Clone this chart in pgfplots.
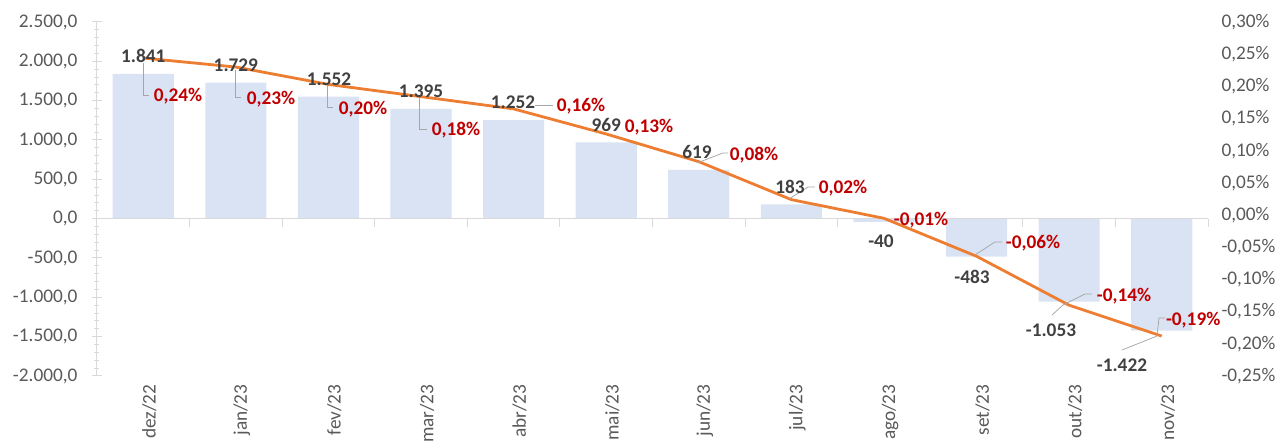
\documentclass[border=0pt]{standalone}
\usepackage{pgfplots}
\pgfplotsset{compat=1.18}
\usepackage{fontspec}
\setmainfont{Carlito}
\definecolor{barblue}{HTML}{DAE3F3}
\definecolor{lineor}{HTML}{ED7D31}
\definecolor{tickgray}{HTML}{595959}
\definecolor{axgray}{HTML}{D9D9D9}
\definecolor{lblgray}{HTML}{404040}
\definecolor{pctred}{HTML}{C00000}
\definecolor{leadgray}{HTML}{A6A6A6}
\begin{document}
\begin{tikzpicture}[font=\fontsize{19.3}{22}\selectfont]
\useasboundingbox (-97pt,-70pt) rectangle (1182pt,376pt);
\begin{axis}[
  at={(0,0)}, anchor=south west,
  scale only axis, width=1111pt, height=354pt,
  xmin=-0.5, xmax=11.5, ymin=-2000, ymax=2500,
  axis x line*=bottom, axis y line*=left,
  x axis line style={draw=none},
  y axis line style={draw=axgray, line width=1pt},
  xtick={0,...,11},
  xticklabels={dez/22,jan/23,fev/23,mar/23,abr/23,mai/23,jun/23,jul/23,ago/23,set/23,out/23,nov/23},
  xtick style={draw=none},
  xticklabel style={rotate=90, anchor=east, text=tickgray, font=\fontsize{19.3}{22}\selectfont, yshift=-6pt},
  ytick={-2000,-1500,-1000,-500,0,500,1000,1500,2000,2500},
  minor y tick num=4,
  ytick style={draw=axgray, line width=1pt},
  tick align=center,
  major tick length=10pt, minor tick length=5pt,
  yticklabel style={text=tickgray, font=\fontsize{19.3}{22}\selectfont, xshift=-11pt,
    /pgf/number format/.cd, fixed, fixed zerofill, precision=1, use comma, 1000 sep={.}},
  /pgf/number format/assume math mode=true,
  clip=false,
]
\addplot[ybar, bar width=0.66, fill=barblue, draw=none] coordinates {
(0,1841) (1,1729) (2,1552) (3,1395) (4,1252) (5,969) (6,619) (7,183) (8,-40) (9,-483) (10,-1053) (11,-1422)};
\draw[axgray, line width=1pt] (axis cs:-0.5,0) -- (axis cs:11.5,0);
\pgfplotsinvokeforeach{0.5,1.5,2.5,3.5,4.5,5.5,6.5,7.5,8.5,9.5,10.5,11.5}{
  \draw[axgray, line width=1pt] (axis cs:#1,0) -- (axis cs:#1,-100);
}
\end{axis}
\begin{axis}[
  at={(0,0)}, anchor=south west,
  scale only axis, width=1111pt, height=354pt,
  xmin=-0.5, xmax=11.5, ymin=-0.25, ymax=0.30,
  axis x line=none, axis y line*=right,
  y axis line style={draw=none},
  ytick={-0.25,-0.20,-0.15,-0.10,-0.05,0,0.05,0.10,0.15,0.20,0.25,0.30},
  major tick length=0pt,
  yticklabel={\pgfmathprintnumber[fixed,fixed zerofill,precision=2,use comma]{\tick}\%},
  yticklabel style={text=tickgray, anchor=west, font=\fontsize{19.3}{22}\selectfont, xshift=10pt},
  /pgf/number format/assume math mode=true,
  clip=false,
]
\addplot[lineor, line width=2.8pt, line join=round, mark=none] coordinates {
(0,0.244) (1,0.230) (2,0.203) (3,0.184) (4,0.165) (5,0.126) (6,0.083) (7,0.024) (8,-0.005) (9,-0.064) (10,-0.140) (11,-0.188)};
% leader lines
\draw[leadgray, line width=0.75pt] (axis cs:0,0.236) -- (axis cs:0,0.1866) -- (axis cs:0.06,0.1866);
\draw[leadgray, line width=0.75pt] (axis cs:0.991,0.2254) -- (axis cs:0.991,0.1835) -- (axis cs:1.055,0.1835);
\draw[leadgray, line width=0.75pt] (axis cs:1.984,0.2006) -- (axis cs:1.984,0.1679) -- (axis cs:2.049,0.1679);
\draw[leadgray, line width=0.75pt] (axis cs:2.978,0.1819) -- (axis cs:2.978,0.1337) -- (axis cs:3.064,0.1337);
\draw[leadgray, line width=0.75pt] (axis cs:4.231,0.1710) -- (axis cs:4.425,0.1710);
\draw[leadgray, line width=0.75pt] (axis cs:5.981,0.0809) -- (axis cs:6.261,0.0965) -- (axis cs:6.315,0.0965);
\draw[leadgray, line width=0.75pt] (axis cs:6.974,0.0250) -- (axis cs:7.180,0.0436) -- (axis cs:7.255,0.0436);
\draw[leadgray, line width=0.75pt] (axis cs:8.983,-0.062) -- (axis cs:9.199,-0.0418) -- (axis cs:9.275,-0.0418);
\draw[leadgray, line width=0.75pt] (axis cs:9.815,-0.1553) -- (axis cs:9.934,-0.1397) -- (axis cs:10.171,-0.1226) -- (axis cs:10.247,-0.1226);
\draw[leadgray, line width=0.75pt] (axis cs:10.571,-0.2096) -- (axis cs:10.949,-0.1879) -- (axis cs:10.971,-0.160) -- (axis cs:11.036,-0.160);
% bar value labels
\begin{scope}[every node/.style={font=\fontsize{19.3}{22}\selectfont\bfseries, text=lblgray, inner sep=0pt}]
\node at (axis cs:0.0,0.247) {1.841};
\node at (axis cs:1.0,0.233) {1.729};
\node at (axis cs:2.006,0.211) {1.552};
\node at (axis cs:3.0,0.193) {1.395};
\node at (axis cs:3.993,0.176) {1.252};
\node at (axis cs:5.0,0.140) {969};
\node at (axis cs:5.98,0.098) {619};
\node at (axis cs:6.985,0.0436) {183};
\node at (axis cs:7.968,-0.040) {-40};
\node at (axis cs:8.951,-0.096) {-483};
\node at (axis cs:9.804,-0.179) {-1.053};
\node at (axis cs:10.571,-0.233) {-1.422};
\end{scope}
\begin{scope}[every node/.style={font=\fontsize{19.3}{22}\selectfont\bfseries, text=pctred, inner sep=0pt}]
\node at (axis cs:0.375,0.185) {0,24\%};
\node at (axis cs:1.379,0.180) {0,23\%};
\node at (axis cs:2.373,0.165) {0,20\%};
\node at (axis cs:3.378,0.132) {0,18\%};
\node at (axis cs:4.728,0.1695) {0,16\%};
\node at (axis cs:5.462,0.137) {0,13\%};
\node at (axis cs:6.596,0.093) {0,08\%};
\node at (axis cs:7.558,0.042) {0,02\%};
\node at (axis cs:8.40,-0.0076) {-0,01\%};
\node at (axis cs:9.61,-0.0434) {-0,06\%};
\node at (axis cs:10.593,-0.1257) {-0,14\%};
\node at (axis cs:11.34,-0.163) {-0,19\%};
\end{scope}
\end{axis}
\end{tikzpicture}
\end{document}
